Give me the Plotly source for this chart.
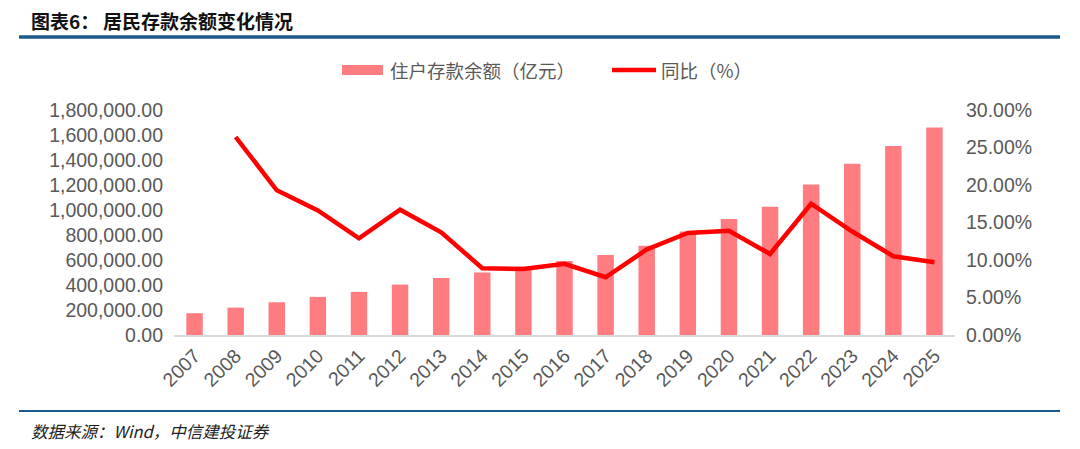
import plotly.graph_objects as go

years = [str(y) for y in range(2007, 2026)]
deposits = [174000, 219000, 262000, 305000, 345000, 403000, 457000, 500000, 547000,
            593000, 641000, 714000, 828000, 928000, 1026000, 1205000, 1371000, 1513000, 1660000]
yoy = [None, 0.264, 0.193, 0.166, 0.129, 0.167, 0.137, 0.089, 0.088, 0.095, 0.077,
       0.114, 0.136, 0.139, 0.108, 0.175, 0.138, 0.105, 0.097]

bar_name = "住户存款余额（亿元）"
line_name = "同比（%）"
title_label = "图表6："
title_text = "居民存款余额变化情况"
source_text = "数据来源：Wind，中信建投证券"

BAR_COLOR = "#FF7C80"
LINE_COLOR = "#FF0000"
TXT = "#595959"
BLUE = "#1A5A8A"
CJK = "Noto Sans CJK SC"
NUM = "Liberation Sans, Arial"

OFF = 8  # page body margin
W, H = 1080 - OFF, 449 - OFF
# plot area in page coordinates
PL, PR, PT, PB = 174, 955, 110, 335
L, R, T, B = PL - OFF, W - (PR - OFF), PT - OFF, H - (PB - OFF)
PW, PH = PR - PL, PB - PT

def px(x):
    return (x - PL) / PW

def py(y):
    return (PB - y) / PH

fig = go.Figure()
fig.add_trace(go.Bar(x=years, y=deposits, name=bar_name, marker_color=BAR_COLOR,
                     marker_line_width=0, yaxis="y", showlegend=False))
fig.add_trace(go.Scatter(x=years, y=yoy, name=line_name, mode="lines",
                         line=dict(color=LINE_COLOR, width=4.5), yaxis="y2",
                         showlegend=False))

shapes = [
    dict(type="line", xref="paper", yref="paper", x0=px(19), x1=px(1060), y0=py(37), y1=py(37),
         line=dict(color=BLUE, width=3.5)),
    dict(type="line", xref="paper", yref="paper", x0=px(19), x1=px(1060), y0=py(411), y1=py(411),
         line=dict(color=BLUE, width=2)),
    dict(type="rect", xref="paper", yref="paper", x0=px(342), x1=px(383), y0=py(75), y1=py(65),
         fillcolor=BAR_COLOR, line=dict(width=0)),
    dict(type="line", xref="paper", yref="paper", x0=px(612), x1=px(656), y0=py(70), y1=py(70),
         line=dict(color=LINE_COLOR, width=4.5)),
]

annotations = [
    dict(text="<b>" + title_label + "</b>", xref="paper", yref="paper", x=px(30), y=py(21),
         xanchor="left", yanchor="middle", showarrow=False, borderpad=0,
         font=dict(family=CJK, size=19, color="#111111")),
    dict(text="<b>" + title_text + "</b>", xref="paper", yref="paper", x=px(102), y=py(21),
         xanchor="left", yanchor="middle", showarrow=False, borderpad=0,
         font=dict(family=CJK, size=19, color="#111111")),
    dict(text="<i>" + source_text + "</i>", xref="paper", yref="paper", x=px(29), y=py(431),
         xanchor="left", yanchor="middle", showarrow=False,
         font=dict(family=CJK, size=16.5, color="#222222")),
    dict(text=bar_name, xref="paper", yref="paper", x=px(388), y=py(70),
         xanchor="left", yanchor="middle", showarrow=False,
         font=dict(family=CJK, size=18.5, color=TXT)),
    dict(text=line_name, xref="paper", yref="paper", x=px(659), y=py(70),
         xanchor="left", yanchor="middle", showarrow=False,
         font=dict(family=CJK, size=18.5, color=TXT)),
]

fig.update_layout(
    width=W, height=H,
    margin=dict(l=L, r=R, t=T, b=B, autoexpand=False),
    paper_bgcolor="white", plot_bgcolor="white",
    bargap=0.6,
    shapes=shapes, annotations=annotations,
    xaxis=dict(type="category", showline=True, linecolor="#D9D9D9", linewidth=1.5,
               showgrid=False, ticks="", tickangle=-45,
               tickfont=dict(family=NUM, size=19.5, color=TXT)),
    yaxis=dict(range=[0, 1800000], dtick=200000, tickformat=",.2f", showgrid=False,
               zeroline=False, showline=False, ticks="", ticklabelstandoff=10,
               tickfont=dict(family=NUM, size=19.5, color=TXT)),
    yaxis2=dict(range=[0, 0.30], dtick=0.05, tickformat=".2%", overlaying="y", side="right",
                showgrid=False, zeroline=False, showline=False, ticks="", ticklabelstandoff=10,
                tickfont=dict(family=NUM, size=19.5, color=TXT)),
)

fig.write_html("out.html")
